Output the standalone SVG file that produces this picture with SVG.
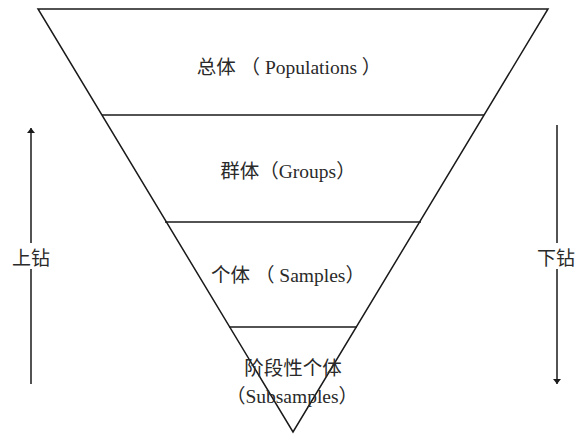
<svg xmlns="http://www.w3.org/2000/svg" width="582" height="434" viewBox="0 0 582 434">
  <style>
    .edge { fill: none; stroke: #1a1a1a; stroke-width: 1.5; }
    .lbl { font-family: "Liberation Serif", "Noto Sans CJK SC", serif; font-size: 19.5px; fill: #2a2a2a; text-anchor: middle; }
    .side { font-family: "Liberation Serif", "Noto Sans CJK SC", serif; font-size: 19px; fill: #2a2a2a; text-anchor: middle; }
  </style>
  <defs>
    <marker id="head" viewBox="0 0 10 10" refX="10" refY="5" markerWidth="5" markerHeight="8" markerUnits="userSpaceOnUse" orient="auto" preserveAspectRatio="none">
      <path d="M0,0 L10,5 L0,10 Z" fill="#1a1a1a"/>
    </marker>
  </defs>
  <rect width="582" height="434" fill="#ffffff"/>

  <!-- inverted pyramid and tier dividers -->
  <g id="pyramid">
    <path class="edge" d="M38,9 L548,9 L293,432 Z"/>
    <line class="edge" x1="102" y1="115" x2="484" y2="115"/>
    <line class="edge" x1="165" y1="222" x2="421" y2="222"/>
    <line class="edge" x1="229" y1="327" x2="357" y2="327"/>
  </g>

  <g id="populations">
    <text class="lbl" x="289" y="74">总体 （ Populations ）</text>
  </g>
  <g id="groups">
    <text class="lbl" x="288" y="178">群体（Groups）</text>
  </g>
  <g id="samples">
    <text class="lbl" x="288" y="282">个体 （ Samples）</text>
  </g>
  <g id="subsamples">
    <text class="lbl" x="293" y="375">阶段性个体</text>
    <text class="lbl" x="292" y="403">（Subsamples）</text>
  </g>

  <!-- drill-up / drill-down arrows -->
  <g id="connectors">
    <line class="edge" x1="31" y1="384" x2="31" y2="128" marker-end="url(#head)"/>
    <line class="edge" x1="557" y1="125" x2="557" y2="384" marker-end="url(#head)"/>
  </g>

  <g id="drill-up">
    <rect x="12" y="243" width="40" height="26" fill="#ffffff"/>
    <text class="side" x="31" y="265">上钻</text>
  </g>
  <g id="drill-down">
    <rect x="536" y="243" width="42" height="26" fill="#ffffff"/>
    <text class="side" x="556" y="265">下钻</text>
  </g>
</svg>
